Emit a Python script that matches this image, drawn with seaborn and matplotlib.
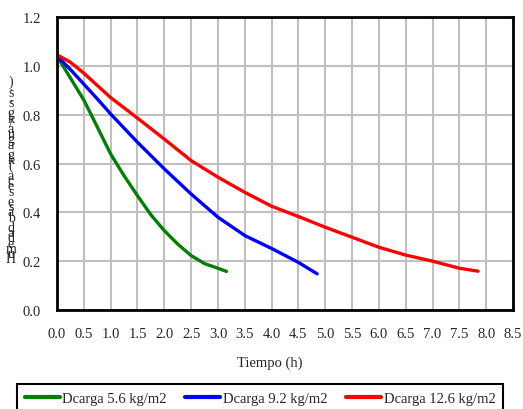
import numpy as np
import pandas as pd
import seaborn as sns
import matplotlib.pyplot as plt

# Data
t_56 = [0.0, 0.25, 0.5, 0.75, 1.0, 1.25, 1.5, 1.75, 2.0, 2.25, 2.5, 2.75, 3.0, 3.16]
h_56 = [1.04, 0.95, 0.86, 0.75, 0.639, 0.55, 0.468, 0.39, 0.325, 0.27, 0.223, 0.19, 0.171, 0.158]

t_92 = [0.0, 0.25, 0.5, 0.75, 1.0, 1.5, 2.0, 2.5, 3.0, 3.5, 4.0, 4.5, 4.85]
h_92 = [1.04, 0.985, 0.925, 0.865, 0.803, 0.687, 0.578, 0.475, 0.38, 0.305, 0.252, 0.195, 0.148]

t_126 = [0.0, 0.25, 0.5, 0.75, 1.0, 1.5, 2.0, 2.5, 3.0, 3.5, 4.0, 4.5, 5.0, 5.5, 6.0, 6.5, 7.0, 7.5, 7.85]
h_126 = [1.045, 1.015, 0.97, 0.92, 0.87, 0.786, 0.70, 0.612, 0.544, 0.482, 0.425, 0.383, 0.339,
         0.298, 0.257, 0.225, 0.2, 0.171, 0.159]

labels = ['Dcarga 5.6 kg/m2', 'Dcarga 9.2 kg/m2', 'Dcarga 12.6 kg/m2']
colors = ['#008000', '#0000FF', '#FF0000']

df = pd.concat([
    pd.DataFrame({'t': t_56, 'h': h_56, 'serie': labels[0]}),
    pd.DataFrame({'t': t_92, 'h': h_92, 'serie': labels[1]}),
    pd.DataFrame({'t': t_126, 'h': h_126, 'serie': labels[2]}),
])

sns.set_style('white')
plt.rcParams['font.family'] = ['Liberation Serif', 'DejaVu Serif']

fig = plt.figure(figsize=(5.23, 4.10), dpi=100)
ax = fig.add_axes([57 / 523, 1 - 311 / 410, 456 / 523, 293 / 410])

sns.lineplot(data=df, x='t', y='h', hue='serie', palette=colors, linewidth=2.4,
             ax=ax, legend=False, sort=False)

ax.set_xlim(0, 8.5)
ax.set_ylim(0, 1.2)
ax.set_xticks(np.arange(0, 8.51, 0.5))
ax.set_yticks(np.arange(0, 1.21, 0.2))
ax.set_xticklabels([f'{v:.1f}' for v in np.arange(0, 8.51, 0.5)])
ax.set_yticklabels([f'{v:.1f}' for v in np.arange(0, 1.21, 0.2)])
ax.grid(True, color='#c0c0c0', linewidth=1.5)
ax.set_axisbelow(True)
for s in ax.spines.values():
    s.set_color('black')
    s.set_linewidth(2)
ax.tick_params(direction='inout', length=7, width=1.5, labelsize=10.5, color='black')
ax.tick_params(axis='x', pad=9)
ax.tick_params(axis='y', pad=8)

ax.set_xlabel('Tiempo (h)', fontsize=10.5)
ax.xaxis.set_label_coords((270 - 57) / 456, -0.155)
ax.set_ylabel('')

# stacked y label, as in the original rendering
ylab = 'Humedad base seca (kg agua/kg s.s.)'
fig.text(11 / 523, 1 - 171 / 410, '\n'.join(reversed(list(ylab))), fontsize=10,
         ha='center', va='center', linespacing=0.22)

handles = [plt.Line2D([], [], color=c, linewidth=3) for c in colors]
fig.legend(handles, labels, ncol=3, loc='upper left', mode='expand',
           bbox_to_anchor=(10 / 523, -0.2, 500 / 523, 1 - 378 / 410 + 0.2),
           fontsize=10.5, frameon=True, fancybox=False, framealpha=1,
           edgecolor='black', handlelength=2.4, handletextpad=0.2, borderpad=0.5)
fig.legends[0].get_frame().set_linewidth(1.5)

fig.savefig('out.png', dpi=100)
